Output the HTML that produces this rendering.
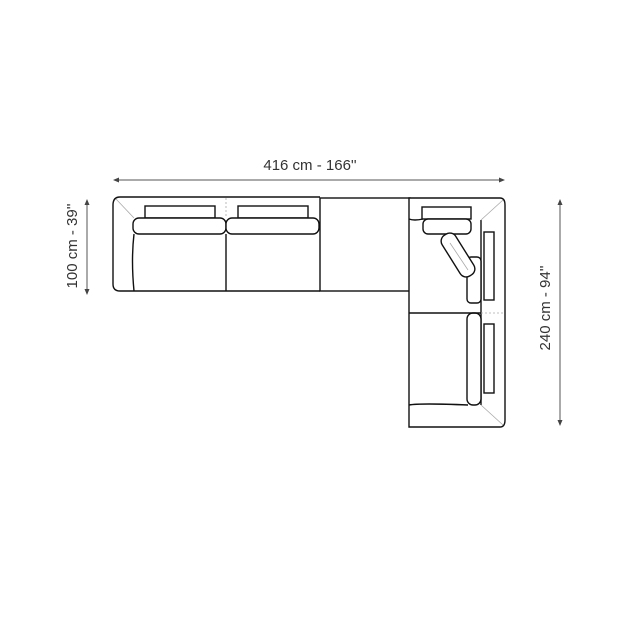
<!DOCTYPE html>
<html><head><style>
html,body{margin:0;padding:0;background:#fff;}
svg{display:block;}
text{font-family:"Liberation Sans",sans-serif;font-size:15px;fill:#333;}
</style></head><body>
<svg width="640" height="640" viewBox="0 0 640 640" xmlns="http://www.w3.org/2000/svg">
<defs>
<marker id="a" markerWidth="6" markerHeight="6" refX="5" refY="3" orient="auto-start-reverse"><path d="M0,0.5 L6,3 L0,5.5 z" fill="#444"/></marker>
</defs>
<g stroke="#555" stroke-width="1" fill="none">
<line x1="114" y1="180" x2="504" y2="180" marker-start="url(#a)" marker-end="url(#a)"/>
<line x1="87" y1="200" x2="87" y2="294" marker-start="url(#a)" marker-end="url(#a)"/>
<line x1="560" y1="200" x2="560" y2="425" marker-start="url(#a)" marker-end="url(#a)"/>
</g>
<text x="310" y="170" text-anchor="middle">416 cm - 166''</text>
<text transform="translate(77,246) rotate(-90)" text-anchor="middle">100 cm - 39''</text>
<text transform="translate(550,308) rotate(-90)" text-anchor="middle">240 cm - 94''</text>

<g stroke="#111" stroke-width="1.4" fill="#fff">
<!-- left sofa -->
<path d="M320,197 L120,197 Q113,197 113,205 L113,284 Q113,291 120,291 L320,291"/>
<path d="M134,234 Q131,260 134,291" fill="none"/>
<line x1="226" y1="234" x2="226" y2="291"/>
<rect x="145" y="206" width="70" height="12"/>
<rect x="238" y="206" width="70" height="12"/>
<rect x="133" y="218" width="93" height="16" rx="6"/>
<rect x="226" y="218" width="93" height="16" rx="6"/>
<!-- middle -->
<rect x="320" y="198" width="90" height="93"/>
<!-- right piece -->
<path d="M409,198 L500,198 Q505,198 505,205 L505,420 Q505,427 500,427 L409,427 Z"/>
<path d="M409,219 Q414,221 423,219" fill="none"/>
<path d="M409,405 Q420,403 468,405" fill="none"/>
<line x1="481" y1="220" x2="481" y2="405"/>
<rect x="422" y="207" width="49" height="12"/>
<rect x="423" y="219" width="48" height="15" rx="5"/>
<rect x="484" y="232" width="10" height="68"/>
<rect x="467" y="257" width="14" height="46" rx="4"/>
<rect x="484" y="324" width="10" height="69"/>
<rect x="467" y="313" width="14" height="92" rx="6"/>
<rect x="-24" y="-8" width="48" height="16" rx="7" transform="translate(458,255) rotate(58)"/>
<line x1="409" y1="313" x2="481" y2="313"/>
</g>
<g stroke="#aaa" stroke-width="0.8" fill="none">
<line x1="116" y1="199" x2="134" y2="218"/>
<line x1="226" y1="198" x2="226" y2="218" stroke-dasharray="2,2"/>
<line x1="481" y1="220" x2="503" y2="200"/>
<line x1="481" y1="405" x2="503" y2="425"/>
<line x1="481" y1="313" x2="505" y2="313" stroke-dasharray="2,2"/>
<line x1="450" y1="243" x2="468" y2="270"/>
</g>
</svg>
</body></html>
